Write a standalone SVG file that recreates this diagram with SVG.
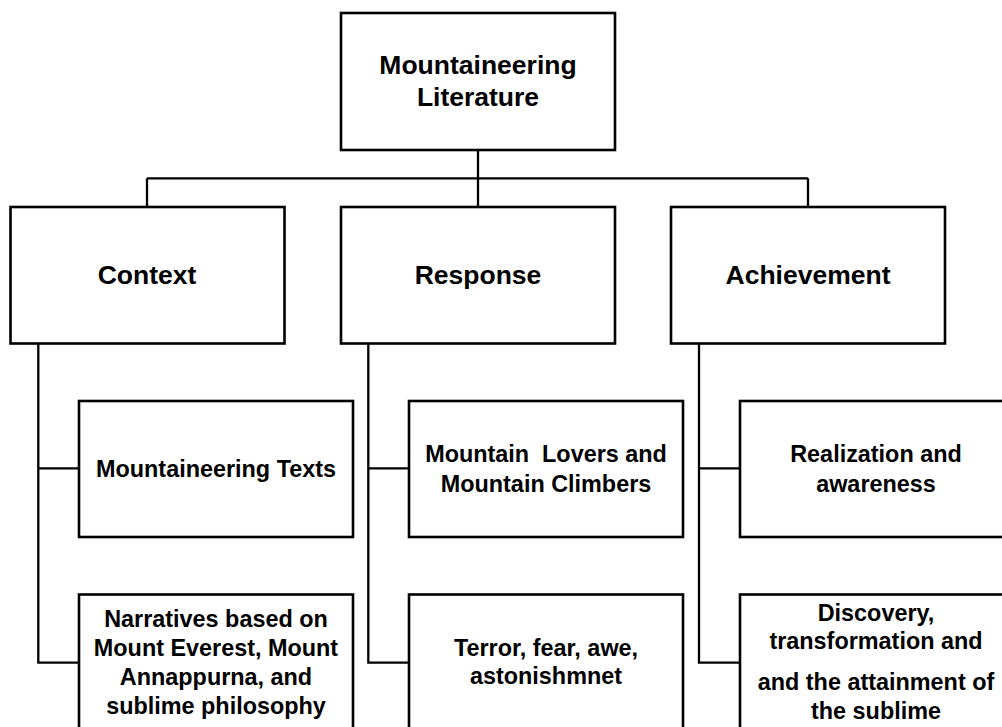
<svg xmlns="http://www.w3.org/2000/svg" width="1002" height="727" viewBox="0 0 1002 727">
<style>
.box{fill:#fff;stroke:#000;stroke-width:2.6}
.ln{fill:none;stroke:#000;stroke-width:2.3}
text{font-family:"Liberation Sans",Arial,sans-serif;font-weight:bold;font-size:23.4px;fill:#000;text-anchor:middle}
.big{font-size:26.5px}
</style>
<rect width="1002" height="727" fill="#fff"/>
<g id="connectors">
<path class="ln" d="M478,150 V207 M147,178.3 H808 M147,178.3 V207 M808,178.3 V207"/>
<path class="ln" d="M38.3,343 V662.7 H79 M38.3,468.3 H79"/>
<path class="ln" d="M368.3,343 V662.7 H409 M368.3,468.3 H409"/>
<path class="ln" d="M699,343 V662.7 H740 M699,468.3 H740"/>
</g>
<g id="root"><rect class="box" x="341" y="13" width="274" height="137"/><text class="big" x="478" y="74">Mountaineering</text><text class="big" x="478" y="106">Literature</text></g>
<g id="context"><rect class="box" x="10.5" y="207" width="274" height="136.5"/><text class="big" x="147" y="284">Context</text></g>
<g id="response"><rect class="box" x="341" y="207" width="274" height="136.5"/><text class="big" x="478" y="284">Response</text></g>
<g id="achievement"><rect class="box" x="671" y="207" width="274" height="136.5"/><text class="big" x="808" y="284">Achievement</text></g>
<g id="texts"><rect class="box" x="79" y="401" width="274" height="136"/><text x="216" y="477">Mountaineering Texts</text></g>
<g id="lovers"><rect class="box" x="409" y="401" width="274" height="136"/><text x="546" y="462" xml:space="preserve">Mountain  Lovers and</text><text x="546" y="492">Mountain Climbers</text></g>
<g id="realization"><rect class="box" x="740" y="401" width="274" height="136"/><text x="876" y="462">Realization and</text><text x="876" y="492">awareness</text></g>
<g id="narratives"><rect class="box" x="79" y="594.5" width="274" height="137"/><text x="216" y="627">Narratives based on</text><text x="216" y="656">Mount Everest, Mount</text><text x="216" y="685">Annappurna, and</text><text x="216" y="713.5">sublime philosophy</text></g>
<g id="terror"><rect class="box" x="409" y="594.5" width="274" height="137"/><text x="546" y="656">Terror, fear, awe,</text><text x="546" y="684">astonishmnet</text></g>
<g id="discovery"><rect class="box" x="740" y="594.5" width="274" height="137"/><text x="876" y="621">Discovery,</text><text x="876" y="648.5">transformation and</text><text x="876" y="690">and the attainment of</text><text x="876" y="718.5">the sublime</text></g>
</svg>
